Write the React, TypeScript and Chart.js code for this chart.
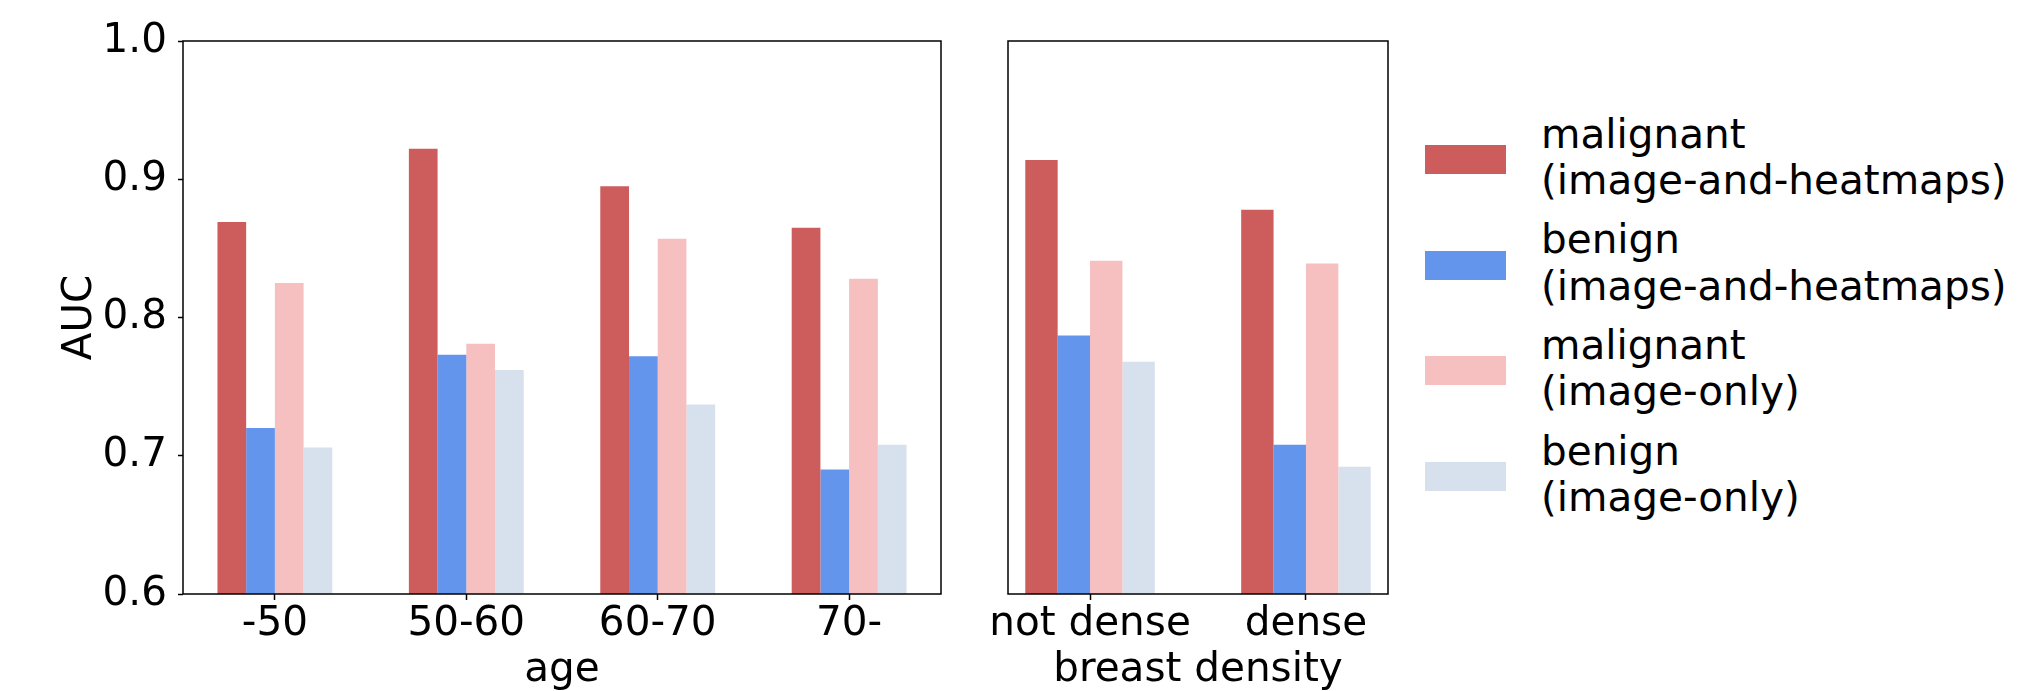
import React, { useEffect, useRef } from 'react';
import { Chart, registerables } from 'chart.js';

Chart.register(...registerables);

// ---- data ----
const ageCategories = ['-50', '50-60', '60-70', '70-'];
const densityCategories = ['not dense', 'dense'];
const yTickValues = [0.6, 0.7, 0.8, 0.9, 1.0];

const seriesNames = [
  ['malignant', '(image-and-heatmaps)'],
  ['benign', '(image-and-heatmaps)'],
  ['malignant', '(image-only)'],
  ['benign', '(image-only)'],
];
const seriesColors = ['#CD5C5C', '#6495ED', '#F6BFC0', '#D7E1ED'];

const ageMalignantHeatmaps = [0.869, 0.922, 0.895, 0.865];
const ageBenignHeatmaps = [0.720, 0.773, 0.772, 0.690];
const ageMalignantImage = [0.825, 0.781, 0.857, 0.828];
const ageBenignImage = [0.706, 0.762, 0.737, 0.708];

const densityMalignantHeatmaps = [0.914, 0.878];
const densityBenignHeatmaps = [0.787, 0.708];
const densityMalignantImage = [0.841, 0.839];
const densityBenignImage = [0.768, 0.692];

const FONT = { family: "'DejaVu Sans'", size: 40.5, lineHeight: 1 };

const framePlugin = {
  id: 'frame',
  afterDraw(chart: any) {
    const { ctx, chartArea: a } = chart;
    ctx.save();
    ctx.strokeStyle = '#000';
    ctx.lineWidth = 1.5;
    ctx.strokeRect(a.left, a.top, a.right - a.left, a.bottom - a.top);
    ctx.restore();
  },
};

function makeConfig(
  cats: string[],
  series: number[][],
  xMin: number,
  xMax: number,
  xTitle: string,
  yTitle: string | null,
  padding: any,
  yWidth: number
): any {
  return {
    type: 'bar',
    data: {
      datasets: series.map((arr, j) => ({
        label: seriesNames[j].join(' '),
        data: cats.map((_, i) => ({ x: i, y: arr[i] })),
        backgroundColor: seriesColors[j],
        borderWidth: 0,
        categoryPercentage: 0.6,
        barPercentage: 1.0,
      })),
    },
    options: {
      responsive: false,
      animation: false,
      devicePixelRatio: 1,
      layout: { padding },
      plugins: { legend: { display: false }, tooltip: { enabled: false } },
      scales: {
        x: {
          type: 'linear',
          min: xMin,
          max: xMax,
          offset: false,
          afterBuildTicks: (s: any) => {
            s.ticks = cats.map((_, i) => ({ value: i }));
          },
          afterFit: (s: any) => {
            s.height = 97;
            s.paddingLeft = 0;
            s.paddingRight = 0;
          },
          ticks: {
            callback: (v: any) => cats[Math.round(Number(v))] ?? '',
            font: FONT,
            color: '#000',
            padding: 4,
            maxRotation: 0,
            autoSkip: false,
          },
          grid: {
            drawOnChartArea: false,
            offset: false,
            drawTicks: true,
            tickLength: 6,
            tickWidth: 1.5,
            tickColor: '#000',
          },
          border: { display: false },
          title: {
            display: true,
            text: xTitle,
            font: FONT,
            color: '#000',
            padding: { top: 0, bottom: 0 },
          },
        },
        y: {
          type: 'linear',
          min: 0.6,
          max: 1.0,
          afterBuildTicks: (s: any) => {
            s.ticks = yTickValues.map((v) => ({ value: v }));
          },
          afterFit: (s: any) => {
            s.width = yWidth;
            s.paddingTop = 0;
            s.paddingBottom = 0;
          },
          ticks: {
            display: yTitle !== null,
            callback: (v: any) => Number(v).toFixed(1),
            font: FONT,
            color: '#000',
            padding: 11,
          },
          grid: {
            drawOnChartArea: false,
            drawTicks: yTitle !== null,
            tickLength: 5,
            tickWidth: 1.5,
            tickColor: '#000',
          },
          border: { display: false },
          title: {
            display: yTitle !== null,
            text: yTitle ?? '',
            font: FONT,
            color: '#000',
            padding: { top: 60, bottom: 0 },
          },
        },
      },
    },
    plugins: [framePlugin],
  };
}

export default function App() {
  const ref1 = useRef<HTMLCanvasElement>(null);
  const ref2 = useRef<HTMLCanvasElement>(null);

  useEffect(() => {
    Chart.defaults.font.family = "'DejaVu Sans'";
    const c1 = new Chart(
      ref1.current!,
      makeConfig(
        ageCategories,
        [ageMalignantHeatmaps, ageBenignHeatmaps, ageMalignantImage, ageBenignImage],
        -0.48,
        3.48,
        'age',
        'AUC',
        { left: 0, right: 19, top: 41, bottom: 0 },
        183
      )
    );
    const c2 = new Chart(
      ref2.current!,
      makeConfig(
        densityCategories,
        [densityMalignantHeatmaps, densityBenignHeatmaps, densityMalignantImage, densityBenignImage],
        -0.38,
        1.38,
        'breast density',
        null,
        { left: 48, right: 12, top: 41, bottom: 0 },
        0
      )
    );
    return () => {
      c1.destroy();
      c2.destroy();
    };
  }, []);

  const legendFirstTop = 145;
  const legendStep = 105.7;
  const patchH = 29;

  return (
    <div
      style={{
        position: 'absolute',
        left: 0,
        top: 0,
        width: 2024,
        height: 691,
        background: '#fff',
        overflow: 'hidden',
        fontFamily: "'DejaVu Sans'",
      }}
    >
      <canvas
        ref={ref1}
        width={960}
        height={691}
        style={{ position: 'absolute', left: 0, top: 0, width: 960, height: 691 }}
      />
      <canvas
        ref={ref2}
        width={440}
        height={691}
        style={{ position: 'absolute', left: 960, top: 0, width: 440, height: 691 }}
      />
      {seriesNames.map((lines, i) => {
        const top = legendFirstTop + i * legendStep;
        const center = top + patchH / 2;
        return (
          <React.Fragment key={i}>
            <div
              style={{
                position: 'absolute',
                left: 1425,
                top,
                width: 81,
                height: patchH,
                background: seriesColors[i],
              }}
            />
            <div
              style={{
                position: 'absolute',
                left: 1541,
                top: center - 49,
                fontSize: 40.5,
                lineHeight: '46.5px',
                color: '#000',
                whiteSpace: 'nowrap',
              }}
            >
              {lines.map((t, k) => (
                <div key={k}>{t}</div>
              ))}
            </div>
          </React.Fragment>
        );
      })}
    </div>
  );
}
